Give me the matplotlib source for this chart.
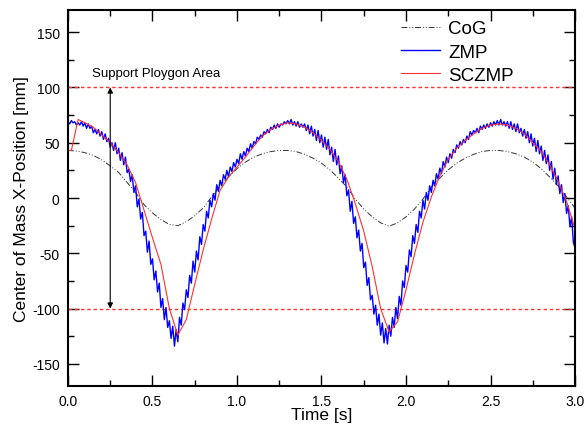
import numpy as np
import matplotlib
matplotlib.use("Agg")
import matplotlib.pyplot as plt
from matplotlib.ticker import MultipleLocator

plt.rcParams['font.family'] = ['Liberation Sans', 'DejaVu Sans']
plt.rcParams['axes.unicode_minus'] = False

# CoG, sampled every 0.05 s
cog_t = np.round(np.arange(61) * 0.05, 2)
cog = [43, 42.5, 41, 38.5, 34.5, 29, 23, 14, 5, -6, -13.5, -19.5, -24,
       -25, -21.5, -16, -9, 1, 11, 19, 26.5, 32.5, 37, 40, 42, 43,
       43, 42, 39.5, 36, 31.5, 25.5, 18, 10, -1, -10, -17, -22.5,
       -25.5, -22.5, -17, -10, -1, 10, 18, 25.5, 31.5, 36, 39.5, 42, 43,
       43, 42, 40, 37, 32.5, 26.5, 19, 11, 1, -9]

# ZMP (measured, noisy), sampled every 0.01 s
zmp_t = np.round(np.arange(301) * 0.01, 2)
zmp = [69, 67, 70, 68, 69, 66, 68, 66, 69, 65,
       68, 63, 67, 63, 65, 59, 62, 58, 62, 56,
       60, 53, 58, 51, 54, 46, 50, 43, 50, 40,
       45, 34, 41, 30, 37, 23, 26, 15, 21, 5,
       11, -8, -1, -19, -13, -34, -30, -49, -39, -60,
       -55, -74, -66, -85, -77, -99, -91, -110, -99, -117,
       -111, -127, -116, -134, -119, -130, -108, -115, -95, -101,
       -83, -90, -70, -77, -57, -67, -48, -56, -35, -42,
       -24, -30, -12, -18, -2, -8, 4, -2, 12, 6,
       16, 11, 21, 17, 25, 19, 28, 24, 32, 28,
       35, 31, 40, 35, 42, 38, 45, 42, 49, 45,
       51, 49, 55, 53, 57, 55, 60, 58, 62, 59,
       64, 62, 66, 63, 67, 64, 67, 66, 69, 67,
       70, 67, 71, 66, 69, 65, 69, 64, 67, 64,
       67, 61, 66, 58, 65, 56, 62, 52, 61, 50,
       57, 46, 55, 44, 53, 39, 46, 33, 44, 30,
       38, 22, 29, 14, 21, 2, 7, -12, -3, -23,
       -17, -36, -29, -48, -41, -63, -58, -79, -72, -92,
       -88, -105, -97, -115, -105, -124, -113, -131, -118, -132,
       -115, -125, -108, -117, -99, -109, -89, -97, -75, -81,
       -61, -67, -47, -53, -34, -41, -24, -31, -12, -18,
       -2, -10, 5, -2, 11, 5, 16, 11, 22, 17,
       27, 22, 33, 28, 37, 32, 40, 36, 44, 41,
       48, 45, 51, 48, 53, 50, 56, 53, 60, 57,
       61, 59, 63, 59, 65, 62, 66, 63, 67, 64,
       68, 65, 69, 66, 70, 66, 71, 66, 69, 65,
       69, 63, 69, 62, 67, 60, 67, 59, 63, 56,
       62, 54, 60, 50, 58, 47, 54, 42, 52, 40,
       47, 34, 43, 31, 39, 25, 33, 17, 27, 12,
       20, 4, 12, -4, 4, -14, -7, -26, -17, -40,
       -45]

# SCZMP
sc_t = [0.0, 0.02, 0.06, 0.10, 0.15, 0.20, 0.25, 0.30, 0.35, 0.40, 0.45,
        0.50, 0.55, 0.60, 0.65, 0.70, 0.75, 0.80, 0.85, 0.90, 0.95, 1.00,
        1.05, 1.10, 1.15, 1.20, 1.25, 1.30, 1.35, 1.40, 1.45, 1.50, 1.55,
        1.60, 1.65, 1.70, 1.75, 1.80, 1.85, 1.90, 1.95, 2.00, 2.05, 2.10,
        2.15, 2.20, 2.25, 2.30, 2.35, 2.40, 2.45, 2.50, 2.55, 2.60, 2.65,
        2.70, 2.75, 2.80, 2.85, 2.90, 2.95, 3.00]
sczmp = [43, 43, 71, 68, 64, 57, 50, 41, 30, 14, -11,
         -36, -60, -100, -124, -110, -78, -47, -19, 7, 19, 28,
         37, 47, 56, 62, 66, 68, 67, 64, 59, 52, 44,
         33, 17, -5, -30, -62, -100, -121, -112, -83, -51, -22,
         1, 20, 35, 45, 52, 58, 63, 66, 67, 66, 63,
         58, 50, 42, 30, 15, -3, -28]

support_limits = [100, -100]

fig = plt.figure(figsize=(5.87, 4.27), dpi=100)
ax = fig.add_axes([0.1158, 0.0937, 0.8638, 0.8805])

for lim in support_limits:
    ax.plot([0, 3], [lim, lim], color='#ff3333', lw=1.0, ls=(0, (2.5, 2)))

ax.plot(cog_t, cog, color='#333333', lw=0.7, ls=(0, (6, 2, 1, 2, 1, 2)), label='CoG')
ax.plot(zmp_t, zmp, color='#0000ff', lw=1.0, label='ZMP')
ax.plot(sc_t, sczmp, color='#ff3030', lw=0.8, label='SCZMP')

ax.annotate('', xy=(0.25, 100), xytext=(0.25, -100),
            arrowprops=dict(arrowstyle='<|-|>', color='black', lw=0.8,
                            mutation_scale=8, shrinkA=0, shrinkB=0))
ax.text(0.145, 113, 'Support Ploygon Area', fontsize=9.5, va='center')

ax.set_xlim(0, 3)
ax.set_ylim(-170, 170)
ax.xaxis.set_major_locator(MultipleLocator(0.5))
ax.xaxis.set_minor_locator(MultipleLocator(0.25))
ax.yaxis.set_major_locator(MultipleLocator(50))
ax.yaxis.set_minor_locator(MultipleLocator(25))
ax.xaxis.set_major_formatter(matplotlib.ticker.FormatStrFormatter('%.1f'))
ax.tick_params(which='both', direction='in', top=True, right=True, labelsize=10, width=1.0)
ax.tick_params(which='major', length=8, pad=6)
ax.tick_params(which='minor', length=4)
for s in ax.spines.values():
    s.set_linewidth(1.5)

ax.set_xlabel('Time [s]', fontsize=12.5, labelpad=-1)
ax.set_ylabel('Center of Mass X-Position [mm]', fontsize=12.5, labelpad=2)

ax.legend(loc='upper right', frameon=False, fontsize=13.5, handlelength=2.1,
          handletextpad=0.45, labelspacing=0.32, borderaxespad=0.15,
          bbox_to_anchor=(0.9, 1.0))

fig.savefig('out.png', dpi=100)
